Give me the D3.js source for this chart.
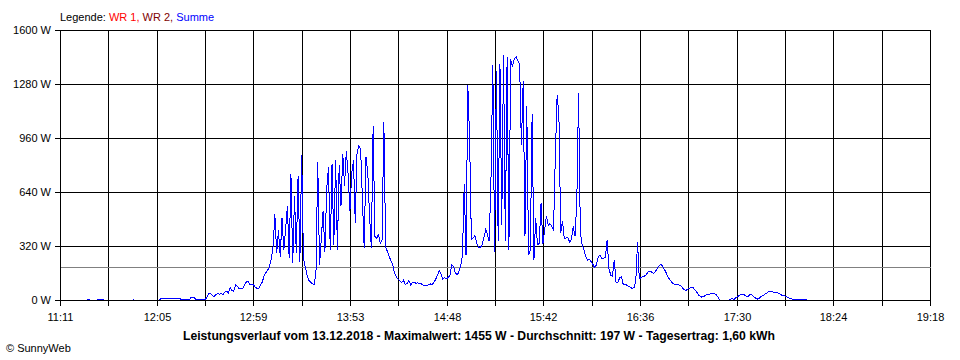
<!DOCTYPE html>
<html><head><meta charset="utf-8">
<script src="https://cdn.jsdelivr.net/npm/d3@7"></script>
<style>
html,body{margin:0;padding:0;background:#fff;}
svg{display:block;}
text{font-family:"Liberation Sans",Arial,sans-serif;font-size:11px;fill:#000;}
</style></head><body>
<svg id="chart" width="960" height="360"></svg>
<script>
// ---- data ----
const dateLabel = "13.12.2018";
const startTime = "11:11";
const endTime = "19:18";
const sampleMinutes = 1;           // one reading per minute, starting at startTime
const watts = [
0,0,0,0,0,0,0,0,0,0,
0,0,0,0,0,4,4,0,0,0,
0,4,4,4,4,0,0,0,0,0,
0,0,0,0,0,0,0,0,0,0,
0,4,0,0,0,0,0,0,0,0,
0,0,0,0,0,0,10,10,10,10,
10,10,10,10,10,10,10,10,5,5,
5,5,5,16,16,16,5,5,5,5,
5,5,20,40,43,30,23,35,40,38,
42,35,50,55,45,75,60,55,95,85,
70,68,70,90,110,112,95,95,93,80,
72,72,95,110,150,165,180,200,250,320,
510,280,415,260,490,300,420,560,250,750,
220,620,280,740,230,860,250,200,150,120,
108,100,95,160,820,210,370,530,290,660,
790,300,810,330,830,300,800,560,870,680,
885,750,530,750,830,460,880,915,900,600,
310,850,760,500,310,1035,380,370,390,340,
360,1055,320,290,260,235,210,160,140,125,
115,108,120,95,100,120,93,105,110,100,
105,100,98,90,92,88,95,98,95,108,
125,150,178,155,128,135,130,135,150,210,
200,165,150,170,205,270,690,270,1278,960,
360,370,385,340,315,315,330,370,420,390,
350,740,1393,290,1360,350,1400,450,1452,350,
1440,300,1430,1385,1430,1445,1420,1400,920,1300,
380,1155,270,300,1106,240,490,330,340,580,
335,420,500,445,455,440,420,860,1215,1100,
400,470,365,370,375,345,360,440,380,580,
1230,400,330,300,260,240,245,230,215,195,
210,260,270,250,250,255,360,190,150,145,
240,105,105,135,140,95,98,90,85,78,
72,75,110,345,130,135,145,145,155,170,
175,168,160,172,190,205,213,205,185,165,
140,125,110,100,92,95,92,88,78,65,
60,65,72,80,78,65,52,35,25,20,
24,30,35,35,43,40,40,35,20,3,
0,0,0,0,0,8,12,6,16,22,
30,38,38,32,26,25,35,33,24,15,
8,12,22,28,35,42,50,55,52,50,
50,47,42,36,30,30,24,18,14,10,
8,6,5,5,5,5,5,5,5
];
const averageWatts = 197;
const maxWatts = 1455;
const dailyYield = "1,60";
const yTickValues = [0, 320, 640, 960, 1280, 1600];
const yTickLabels = ["0 W", "320 W", "640 W", "960 W", "1280 W", "1600 W"];
const xTickLabels = ["11:11","12:05","12:59","13:53","14:48","15:42","16:36","17:30","18:24","19:18"];
const xGridDivisions = 18;
const legendTitle = "Legende: ";
const legendLabels = ["WR 1, ", "WR 2, ", "Summe"];
const copyright = "\u00A9 SunnyWeb";

// ---- styles ----
const legendColors = ["#ff0000", "#800000", "#0000ff"];
const lineColor = "#0000ff";
const avgColor = "#808080";

// ---- chart ----
const svg = d3.select("#chart");
const parse = d3.timeParse("%H:%M");
const t0 = parse(startTime), t1 = parse(endTime);
const x = d3.scaleTime().domain([t0, t1]).range([60, 930]);
const y = d3.scaleLinear().domain([0, 1600]).range([300, 30]);
const crisp = v => Math.round(v) + 0.5;

const series = watts.map((w, i) => ({t: d3.timeMinute.offset(t0, i * sampleMinutes), w}));

// grid: horizontal
const gridStops = d3.range(xGridDivisions + 1).map(k => new Date(+t0 + (t1 - t0) * k / xGridDivisions));
const g = svg.append("g");
g.selectAll("line.h").data(yTickValues).join("line")
  .attr("x1", 55).attr("x2", crisp(x(t1)) + 0.5)
  .attr("y1", d => crisp(y(d))).attr("y2", d => crisp(y(d)))
  .attr("stroke", "#000").attr("stroke-width", 1).attr("shape-rendering", "crispEdges");
g.selectAll("line.v").data(gridStops).join("line")
  .attr("x1", d => crisp(x(d))).attr("x2", d => crisp(x(d)))
  .attr("y1", crisp(y(1600))).attr("y2", crisp(y(0)) + 5)
  .attr("stroke", "#000").attr("stroke-width", 1).attr("shape-rendering", "crispEdges");

// average line
svg.append("line")
  .attr("x1", crisp(x(t0))).attr("x2", crisp(x(t1)))
  .attr("y1", crisp(y(averageWatts))).attr("y2", crisp(y(averageWatts)))
  .attr("stroke", avgColor).attr("stroke-width", 1).attr("shape-rendering", "crispEdges");

// data line
const line = d3.line().x(d => x(d.t) + 0.5).y(d => y(d.w) + 0.5);
svg.append("path").datum(series)
  .attr("d", line).attr("fill", "none")
  .attr("stroke", lineColor).attr("stroke-width", 1)
  .attr("shape-rendering", "crispEdges");

// zero axis on top
svg.append("line")
  .attr("x1", 55).attr("x2", crisp(x(t1)) + 0.5)
  .attr("y1", crisp(y(0))).attr("y2", crisp(y(0)))
  .attr("stroke", "#000").attr("stroke-width", 1).attr("shape-rendering", "crispEdges");

// y labels
svg.selectAll("text.yl").data(yTickValues).join("text")
  .attr("x", 51).attr("y", d => y(d) + 4)
  .attr("text-anchor", "end")
  .text((d, i) => yTickLabels[i]);

// x labels
svg.selectAll("text.xl").data(xTickLabels).join("text")
  .attr("x", (d, i) => crisp(x(gridStops[i * 2])))
  .attr("y", 321)
  .attr("text-anchor", "middle")
  .text(d => d);

// legend
const leg = svg.append("text").attr("x", 60).attr("y", 21);
leg.append("tspan").text(legendTitle);
legendLabels.forEach((l, i) => leg.append("tspan").attr("fill", legendColors[i]).style("fill", legendColors[i]).text(l));

// title
svg.append("text")
  .attr("x", 479).attr("y", 340)
  .attr("text-anchor", "middle")
  .attr("textLength", 592).attr("lengthAdjust", "spacingAndGlyphs")
  .style("font-weight", "bold").style("font-size", "12px")
  .text(`Leistungsverlauf vom ${dateLabel} - Maximalwert: ${maxWatts} W - Durchschnitt: ${averageWatts} W - Tagesertrag: ${dailyYield} kWh`);

// copyright
svg.append("text").attr("x", 6).attr("y", 352).text(copyright);
</script>
</body></html>
